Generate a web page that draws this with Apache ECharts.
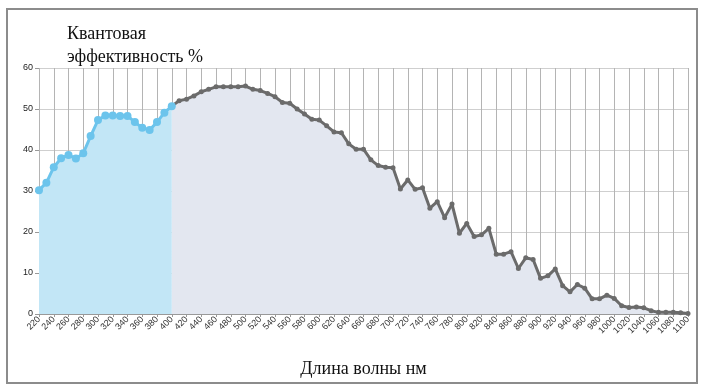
<!DOCTYPE html>
<html><head><meta charset="utf-8">
<script src="https://cdn.jsdelivr.net/npm/echarts@6/dist/echarts.min.js"></script>
<style>
html,body{margin:0;padding:0;background:#fff;}
#frame{position:absolute;left:6px;top:8px;width:692px;height:376px;border:2px solid #8c8c8c;box-sizing:border-box;}
#c{position:absolute;left:0;top:0;width:707px;height:391px;}
</style></head>
<body>
<div id="frame"></div>
<div id="c"></div>
<script>
const wavelengths = [];
for (let w = 220; w <= 1100; w += 10) wavelengths.push(String(w));
// 220..400 nm (UV range, blue)
const uvValues = [30.2, 32.0, 35.8, 38.0, 38.8, 37.9, 39.2, 43.4, 47.3, 48.4, 48.4, 48.3, 48.3, 46.8, 45.4, 44.9, 46.8, 49.1, 50.7];
// 400..1100 nm (gray)
const visNirValues = [50.7, 52.0, 52.4, 53.2, 54.2, 54.8, 55.4, 55.4, 55.4, 55.4, 55.6,
  54.8, 54.5, 53.8, 53.0, 51.6, 51.4, 50.0, 48.8, 47.5, 47.3,
  45.9, 44.4, 44.2, 41.5, 40.2, 40.2, 37.6, 36.2, 35.8, 35.7,
  30.5, 32.7, 30.4, 30.8, 25.8, 27.4, 23.5, 26.8, 19.7, 22.1,
  18.9, 19.3, 20.9, 14.6, 14.6, 15.2, 11.1, 13.7, 13.3, 8.7,
  9.3, 11.0, 6.9, 5.4, 7.2, 6.3, 3.7, 3.7, 4.6, 3.8,
  2.0, 1.6, 1.7, 1.5, 0.8, 0.4, 0.4, 0.4, 0.3, 0.1];
const yTicks = [0, 10, 20, 30, 40, 50, 60];

const n = wavelengths.length;
const blueData = wavelengths.map((w, i) => i < uvValues.length ? uvValues[i] : null);
const grayStart = n - visNirValues.length;
const grayData = wavelengths.map((w, i) => i >= grayStart ? visNirValues[i - grayStart] : null);

const chart = echarts.init(document.getElementById('c'), null, {renderer: 'canvas'});
chart.setOption({
  animation: false,
  title: {
    text: 'Квантовая\nэффективность %',
    left: 62, top: 18,
    textStyle: {fontFamily: 'Liberation Serif', fontSize: 18, fontWeight: 'normal', color: '#111', lineHeight: 23}
  },
  grid: {left: 39, right: 19, top: 68, bottom: 77},
  xAxis: {
    type: 'category',
    data: wavelengths,
    boundaryGap: false,
    name: 'Длина волны нм',
    nameLocation: 'middle',
    nameGap: 46,
    nameTextStyle: {fontFamily: 'Liberation Serif', fontSize: 18, color: '#111'},
    axisLine: {lineStyle: {color: '#999', width: 1}},
    axisTick: {show: true, interval: 1, length: 3, lineStyle: {color: '#999'}},
    axisLabel: {interval: 1, rotate: 45, fontSize: 9, color: '#333', fontFamily: 'Arial', margin: 4},
    splitLine: {show: true, interval: 1, lineStyle: {color: '#b4b4b4', width: 1}}
  },
  yAxis: {
    type: 'value',
    min: yTicks[0], max: yTicks[yTicks.length - 1], interval: 10,
    axisLine: {show: false},
    axisTick: {show: true, length: 4, lineStyle: {color: '#999'}},
    axisLabel: {fontSize: 9, color: '#222', fontFamily: 'Arial', margin: 6},
    splitLine: {lineStyle: {color: '#cfcfcf', width: 1}}
  },
  series: [
    {
      type: 'line', data: grayData, z: 2,
      symbol: 'circle', symbolSize: 5, showSymbol: true, showAllSymbol: true,
      lineStyle: {color: '#6b6b6b', width: 3},
      itemStyle: {color: '#6b6b6b'},
      areaStyle: {color: '#e3e7f0', opacity: 1}
    },
    {
      type: 'line', data: blueData, z: 3,
      symbol: 'circle', symbolSize: 8, showSymbol: true, showAllSymbol: true,
      lineStyle: {color: '#6cc4ec', width: 3},
      itemStyle: {color: '#6cc4ec'},
      areaStyle: {color: '#c2e6f6', opacity: 1}
    }
  ]
});
</script>
</body></html>
